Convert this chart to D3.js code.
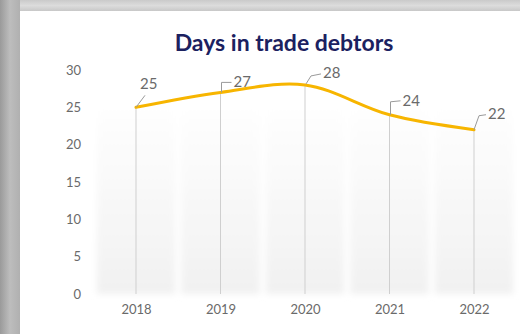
<!DOCTYPE html>
<html>
<head>
<meta charset="utf-8">
<script src="https://cdn.jsdelivr.net/npm/d3@7"></script>
<style>
  html, body { margin: 0; padding: 0; background: #fff; }
  svg { display: block; }
</style>
</head>
<body>
<svg id="chart" width="520" height="334"></svg>
<script>
// Days in trade debtors, by year
const years = ["2018", "2019", "2020", "2021", "2022"];
const days = [25, 27, 28, 24, 22];
const yTicks = [0, 5, 10, 15, 20, 25, 30];
const title = "Days in trade debtors";

const W = 520, H = 334;
const svg = d3.select("#chart");
const defs = svg.append("defs");

// Grey frame behind the card
const leftGrad = defs.append("linearGradient").attr("id", "leftFrame")
  .attr("x1", "0").attr("x2", "1").attr("y1", "0").attr("y2", "0");
leftGrad.append("stop").attr("offset", "0").attr("stop-color", "#9a9a9a");
leftGrad.append("stop").attr("offset", "0.5").attr("stop-color", "#bdbdbd");
leftGrad.append("stop").attr("offset", "1").attr("stop-color", "#b0b0b0");

const topGrad = defs.append("linearGradient").attr("id", "topFrame")
  .attr("x1", "0").attr("x2", "0").attr("y1", "0").attr("y2", "1");
topGrad.append("stop").attr("offset", "0").attr("stop-color", "#cacaca");
topGrad.append("stop").attr("offset", "0.5").attr("stop-color", "#dcdcdc");
topGrad.append("stop").attr("offset", "1").attr("stop-color", "#c8c8c8");

const plotGrad = defs.append("linearGradient").attr("id", "plotFill")
  .attr("x1", "0").attr("x2", "0").attr("y1", "0").attr("y2", "1");
plotGrad.append("stop").attr("offset", "0").attr("stop-color", "#ffffff");
plotGrad.append("stop").attr("offset", "1").attr("stop-color", "#f1f1f1");

const blur = defs.append("filter").attr("id", "soft")
  .attr("x", "-5%").attr("y", "-5%").attr("width", "110%").attr("height", "110%");
blur.append("feGaussianBlur").attr("stdDeviation", 3);

svg.append("rect").attr("x", 0).attr("y", 0).attr("width", W).attr("height", 11)
  .attr("fill", "url(#topFrame)");
svg.append("rect").attr("x", 0).attr("y", 0).attr("width", 20).attr("height", H)
  .attr("fill", "url(#leftFrame)");
svg.append("rect").attr("x", 20).attr("y", 11).attr("width", W - 20).attr("height", H - 11)
  .attr("fill", "#ffffff");

// Scales
const x = d3.scalePoint().domain(years).range([136, 474]);
const y = d3.scaleLinear().domain([0, 30]).range([294, 70]);
const step = x.step();

// Softly shaded category bands
const bands = svg.append("g").attr("filter", "url(#soft)");
bands.selectAll("rect").data(years).join("rect")
  .attr("x", d => x(d) - step / 2 + 3)
  .attr("y", y(26))
  .attr("width", step - 6)
  .attr("height", y(0) - y(26))
  .attr("fill", "url(#plotFill)");

// Title
svg.append("text")
  .attr("x", 284).attr("y", 51)
  .attr("text-anchor", "middle")
  .attr("font-family", "Lato, 'Open Sans', sans-serif")
  .attr("font-weight", "bold")
  .attr("font-size", 23)
  .attr("fill", "#1b2160")
  .text(title);

// Y axis labels
const yAxis = d3.axisLeft(y).tickValues(yTicks).tickSize(0).tickPadding(0);
const gy = svg.append("g").attr("transform", "translate(81,0)").call(yAxis);
gy.select(".domain").remove();
gy.selectAll("text")
  .attr("font-family", "Lato, 'Open Sans', sans-serif")
  .attr("font-size", 13)
  .attr("fill", "#6a6a6a");

// X axis labels
const xAxis = d3.axisBottom(x).tickSize(0).tickPadding(0);
const gx = svg.append("g").attr("transform", "translate(0,305)").call(xAxis);
gx.select(".domain").remove();
gx.selectAll("text")
  .attr("font-family", "Lato, 'Open Sans', sans-serif")
  .attr("font-size", 13)
  .attr("fill", "#6a6a6a");

const pts = years.map((yr, i) => ({ year: yr, value: days[i] }));

// Drop lines from each point to the baseline
svg.append("g").selectAll("line").data(pts).join("line")
  .attr("x1", d => x(d.year)).attr("x2", d => x(d.year))
  .attr("y1", d => y(d.value)).attr("y2", y(0))
  .attr("stroke", "#cfcfcf").attr("stroke-width", 1);

// Smoothed trend line
const line = d3.line()
  .x(d => x(d.year)).y(d => y(d.value))
  .curve(d3.curveCatmullRom.alpha(0.5));
svg.append("path").datum(pts)
  .attr("d", line)
  .attr("fill", "none")
  .attr("stroke", "#f7b500")
  .attr("stroke-width", 3)
  .attr("stroke-linecap", "round");

// Value labels with leader lines (offsets relative to each point)
const labelOffsets = [
  { lead: [[0, 0], [9, -12]], tx: 4, ty: -24 },
  { lead: [[1, 0], [1, -10], [11, -10]], tx: 13, ty: -11 },
  { lead: [[1, -1], [6, -9], [16, -11]], tx: 18, ty: -12 },
  { lead: [[1, 0], [1, -13], [11, -14]], tx: 13, ty: -14 },
  { lead: [[0, 0], [5, -14], [12, -15]], tx: 14, ty: -16 }
];
const labels = svg.append("g");
pts.forEach((d, i) => {
  const px = x(d.year), py = y(d.value), o = labelOffsets[i];
  labels.append("path")
    .attr("d", d3.line()(o.lead.map(p => [px + p[0], py + p[1]])))
    .attr("fill", "none")
    .attr("stroke", "#9a9a9a")
    .attr("stroke-width", 1);
  labels.append("text")
    .attr("x", px + o.tx).attr("y", py + o.ty)
    .attr("dy", "0.35em")
    .attr("font-family", "Lato, 'Open Sans', sans-serif")
    .attr("font-size", 15)
    .attr("fill", "#6a6a6a")
    .text(d.value);
});
</script>
</body>
</html>
